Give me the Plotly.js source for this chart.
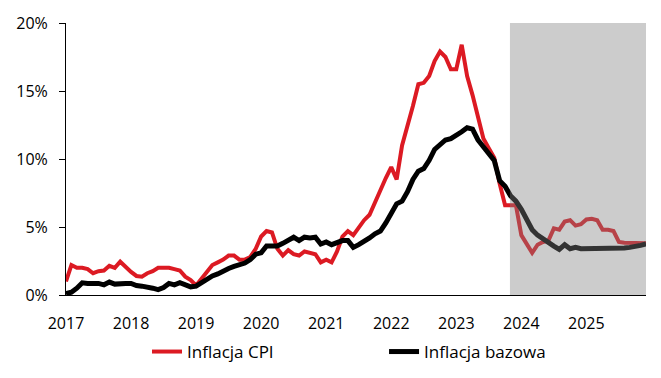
<!DOCTYPE html>
<html>
<head>
<meta charset="utf-8">
<script src="https://cdn.plot.ly/plotly-3.0.1.min.js"></script>
<style>
html,body{margin:0;padding:0;background:#fff;}
#chart{width:661px;height:378px;}
</style>
</head>
<body>
<div id="chart"></div>
<script>
// Tick labels (years) – monthly data Jan 2017 .. Dec 2025
const years = ['2017','2018','2019','2020','2021','2022','2023','2024','2025'];

// Inflacja CPI, % y/y, monthly
const cpi2017 = [1.0, 2.2, 2.0, 2.0, 1.9, 1.6, 1.75, 1.8, 2.15, 2.0, 2.45, 2.05];
const cpi2018 = [1.7, 1.4, 1.35, 1.6, 1.75, 2.0, 2.0, 2.0, 1.9, 1.8, 1.35, 1.1];
const cpi2019 = [0.7, 1.2, 1.7, 2.2, 2.4, 2.6, 2.9, 2.9, 2.6, 2.6, 2.8, 3.4];
const cpi2020 = [4.3, 4.7, 4.6, 3.4, 2.9, 3.3, 3.0, 2.9, 3.2, 3.1, 3.0, 2.4];
const cpi2021 = [2.6, 2.4, 3.2, 4.3, 4.7, 4.4, 5.0, 5.5, 5.9, 6.8, 7.8, 8.6];
const cpi2022 = [9.4, 8.5, 11.0, 12.4, 13.9, 15.5, 15.6, 16.1, 17.2, 17.9, 17.5, 16.6];
const cpi2023 = [16.6, 18.4, 16.1, 14.7, 13.0, 11.5, 10.8, 10.1, 8.2, 6.6, 6.6, 6.6];
const cpi2024 = [4.4, 3.7, 3.1, 3.7, 3.9, 4.0, 4.9, 4.8, 5.4, 5.5, 5.1, 5.2];
const cpi2025 = [5.55, 5.6, 5.5, 4.8, 4.8, 4.7, 3.9, 3.85, 3.85, 3.8, 3.8, 3.8];

// Inflacja bazowa, % y/y, monthly
const core2017 = [0.1, 0.2, 0.5, 0.9, 0.85, 0.85, 0.85, 0.75, 0.95, 0.8, 0.85, 0.85];
const core2018 = [0.85, 0.7, 0.65, 0.6, 0.5, 0.4, 0.55, 0.85, 0.75, 0.9, 0.7, 0.6];
const core2019 = [0.65, 0.9, 1.2, 1.4, 1.55, 1.8, 1.95, 2.1, 2.25, 2.35, 2.6, 3.0];
const core2020 = [3.1, 3.6, 3.6, 3.6, 3.8, 4.0, 4.25, 4.0, 4.25, 4.2, 4.25, 3.75];
const core2021 = [3.9, 3.7, 3.9, 4.0, 4.0, 3.5, 3.7, 3.9, 4.2, 4.5, 4.7, 5.3];
const core2022 = [6.1, 6.7, 6.9, 7.6, 8.5, 9.1, 9.3, 9.9, 10.7, 11.0, 11.4, 11.5];
const core2023 = [11.7, 12.0, 12.3, 12.2, 11.4, 10.9, 10.4, 9.9, 8.4, 8.0, 7.3, 6.9];
const core2024 = [6.3, 5.5, 4.8, 4.4, 4.1, 3.85, 3.6, 3.35, 3.7, 3.4, 3.5, 3.4];
const core2025 = [3.4, 3.4, 3.4, 3.4, 3.4, 3.4, 3.45, 3.45, 3.5, 3.55, 3.65, 3.75];

const cpi = [].concat(cpi2017, cpi2018, cpi2019, cpi2020, cpi2021, cpi2022, cpi2023, cpi2024, cpi2025);
const core = [].concat(core2017, core2018, core2019, core2020, core2021, core2022, core2023, core2024, core2025);

// month positions on an evenly spaced (category-like) axis
const monthIdx = cpi.map((_, i) => i);
const yearTickPos = years.map((_, k) => k * 12);

const FONT = "'Open Sans', 'Noto Sans', sans-serif";

const traces = [
  {
    x: monthIdx, y: cpi, type: 'scatter', mode: 'lines', name: 'Inflacja CPI',
    line: {color: '#dc1a23', width: 4}, legend: 'legend'
  },
  {
    x: monthIdx, y: core, type: 'scatter', mode: 'lines', name: 'Inflacja bazowa',
    line: {color: '#000000', width: 5}, legend: 'legend2'
  }
];

const legendCommon = {
  orientation: 'h', xref: 'container', yref: 'container',
  xanchor: 'left', yanchor: 'middle', y: 0.0688,
  font: {family: FONT, size: 17, color: '#000'},
  bgcolor: 'rgba(0,0,0,0)', itemwidth: 30, borderwidth: 0
};

const layout = {
  width: 661, height: 378,
  margin: {l: 66, r: 15, t: 23, b: 83, pad: 0, autoexpand: false},
  paper_bgcolor: '#ffffff', plot_bgcolor: '#ffffff',
  font: {family: FONT, size: 16, color: '#000'},
  showlegend: true,
  xaxis: {
    range: [0, 107], showgrid: false, zeroline: false,
    showline: true, linecolor: '#000', linewidth: 1,
    ticks: '', tickvals: yearTickPos, ticktext: years,
    tickfont: {family: FONT, size: 16, color: '#000'},
    ticklabelstandoff: 14, automargin: false
  },
  yaxis: {
    range: [0, 20], dtick: 5, tick0: 0, ticksuffix: '%',
    showgrid: false, zeroline: false,
    showline: true, linecolor: '#000', linewidth: 1,
    ticks: 'outside', ticklen: 6, tickcolor: '#000', tickwidth: 1,
    tickfont: {family: FONT, size: 16, color: '#000'},
    ticklabelstandoff: 8, automargin: false
  },
  shapes: [{
    type: 'rect', xref: 'x', yref: 'y', layer: 'above',
    x0: 81.9, x1: 107, y0: 0, y1: 20,
    fillcolor: 'rgba(128,128,128,0.4)', line: {width: 0}
  }],
  legend: Object.assign({}, legendCommon, {x: 0.2224}),
  legend2: Object.assign({}, legendCommon, {x: 0.581})
};

Plotly.newPlot('chart', traces, layout, {displayModeBar: false, staticPlot: true});
</script>
</body>
</html>
